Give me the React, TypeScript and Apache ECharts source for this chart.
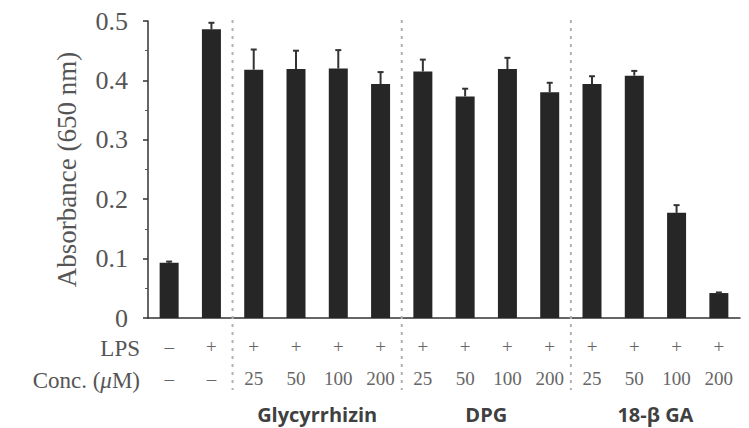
import React, { useEffect, useRef } from "react";
import * as echarts from "echarts";

const categories = ["Ctrl", "LPS", "G25", "G50", "G100", "G200", "D25", "D50", "D100", "D200", "B25", "B50", "B100", "B200"];
const absorbance = [0.093, 0.486, 0.418, 0.419, 0.42, 0.394, 0.415, 0.373, 0.419, 0.38, 0.394, 0.408, 0.177, 0.042];
const errors = [0.002, 0.011, 0.034, 0.031, 0.031, 0.02, 0.02, 0.013, 0.019, 0.016, 0.013, 0.008, 0.013, 0.001];
const lpsRow = ["–", "+", "+", "+", "+", "+", "+", "+", "+", "+", "+", "+", "+", "+"];
const concRow = ["–", "–", "25", "50", "100", "200", "25", "50", "100", "200", "25", "50", "100", "200"];
const groupNames = ["Glycyrrhizin", "DPG", "18-β GA"];
const groupStart = [2, 6, 10];
const groupEnd = [5, 9, 13];
const separatorsAfter = [1, 5, 9];

const SERIF = "'Liberation Serif', 'DejaVu Serif', serif";

export default function App() {
  const ref = useRef<HTMLDivElement>(null);
  useEffect(() => {
    if (!ref.current) return;
    const chart = echarts.init(ref.current, null, { renderer: "svg" });
    chart.setOption({
      animation: false,
      backgroundColor: "#ffffff",
      grid: { left: 148, right: 9, top: 21, bottom: 110, containLabel: false },
      xAxis: {
        type: "category",
        data: categories,
        axisLine: { show: true, lineStyle: { color: "#333", width: 1.5 } },
        axisTick: { show: false },
        axisLabel: {
          interval: 0,
          margin: 12,
          formatter: (_v: string, i: number) => `{a|${lpsRow[i]}}\n{b|${concRow[i]}}`,
          rich: {
            a: { fontSize: 19, lineHeight: 32, color: "#666", fontFamily: SERIF },
            b: { fontSize: 19, lineHeight: 32, color: "#666", fontFamily: SERIF },
          },
        },
      },
      yAxis: {
        type: "value",
        min: 0,
        max: 0.5,
        interval: 0.1,
        name: "Absorbance (650 nm)",
        nameLocation: "middle",
        nameGap: 68,
        nameTextStyle: { fontSize: 27, color: "#555", fontFamily: SERIF },
        axisLine: { show: true, lineStyle: { color: "#333", width: 1.5 } },
        axisTick: { show: true, length: 5, lineStyle: { color: "#333", width: 1.5 } },
        minorTick: { show: true, splitNumber: 2, length: 3, lineStyle: { color: "#555", width: 1 } },
        splitLine: { show: false },
        axisLabel: {
          margin: 20,
          fontSize: 26,
          color: "#555",
          fontFamily: SERIF,
          formatter: (v: number) => (v === 0 ? "0" : v.toFixed(1)),
        },
      },
      series: [
        {
          type: "custom",
          clip: false,
          z: 1,
          silent: true,
          data: separatorsAfter.map((i) => [i, 0]),
          encode: { x: 0, y: 1 },
          renderItem: (_p: any, api: any) => {
            const c = api.coord([api.value(0), 0]);
            const w = api.size([1, 0])[0];
            const x = c[0] + w / 2;
            const top = api.coord([api.value(0), 0.5])[1] - 1;
            return {
              type: "line",
              shape: { x1: x, y1: top, x2: x, y2: c[1] + 72 },
              style: { stroke: "#b0b0b0", lineWidth: 2, lineDash: [3, 5] },
            };
          },
        },
        {
          type: "bar",
          data: absorbance,
          barWidth: 19,
          itemStyle: { color: "#262626" },
          z: 2,
        },
        {
          type: "custom",
          clip: false,
          z: 3,
          data: absorbance.map((v, i) => [i, v, errors[i]]),
          encode: { x: 0, y: 1 },
          renderItem: (_p: any, api: any) => {
            const i = api.value(0);
            const v = api.value(1);
            const e = api.value(2);
            const p0 = api.coord([i, v]);
            const p1 = api.coord([i, v + e]);
            return {
              type: "group",
              children: [
                { type: "line", shape: { x1: p0[0], y1: p0[1], x2: p1[0], y2: p1[1] }, style: { stroke: "#333", lineWidth: 2 } },
                { type: "line", shape: { x1: p1[0] - 3, y1: p1[1], x2: p1[0] + 3, y2: p1[1] }, style: { stroke: "#333", lineWidth: 2 } },
              ],
            };
          },
        },
      ],
    });

    const px = (i: number) => chart.convertToPixel({ xAxisIndex: 0 }, categories[i]) as number;
    const groupTexts = groupNames.map((name, g) => ({
      type: "text",
      x: (px(groupStart[g]) + px(groupEnd[g])) / 2,
      y: 414,
      style: {
        text: name,
        fontSize: 20,
        lineHeight: 22,
        fontWeight: "bold",
        fontFamily: "'Open Sans', 'Noto Sans', sans-serif",
        fill: "#404040",
        textAlign: "center",
        textVerticalAlign: "middle",
      },
    }));
    chart.setOption({
      graphic: [
        {
          type: "text",
          x: 140,
          y: 348,
          style: {
            text: "LPS",
            fontSize: 23,
            fontFamily: SERIF,
            fill: "#555",
            textAlign: "right",
            textVerticalAlign: "middle",
          },
        },
        {
          type: "text",
          x: 140,
          y: 380,
          style: {
            text: "{n|Conc. (}{i|μ}{n|M)}",
            rich: {
              n: { fontSize: 23, fontFamily: SERIF, fill: "#555" },
              i: { fontSize: 23, fontFamily: SERIF, fontStyle: "italic", fill: "#555" },
            },
            textAlign: "right",
            textVerticalAlign: "middle",
          },
        },
        ...groupTexts,
      ],
    });

    return () => chart.dispose();
  }, []);
  return <div ref={ref} style={{ position: "fixed", left: 0, top: 0, width: 749, height: 428 }} />;
}
